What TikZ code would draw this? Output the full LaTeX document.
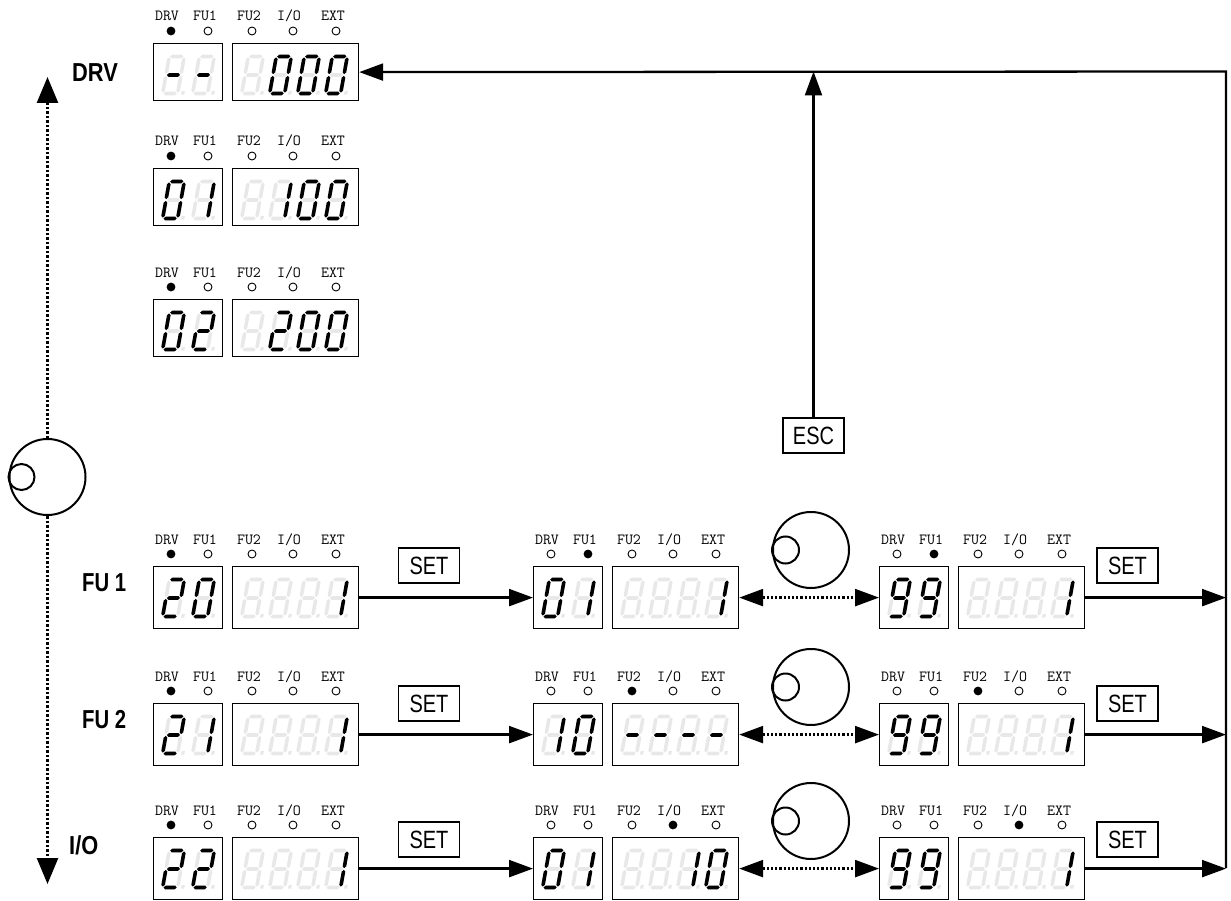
\documentclass[tikz,border=0pt]{standalone}
\usepackage{fontspec}
\usepackage{graphicx}
\setmainfont{Liberation Sans}
\usetikzlibrary{arrows.meta}
\definecolor{ghost}{gray}{0.91}

\tikzset{
 lbox/.style={draw, line width=1.2pt, rectangle, inner sep=0pt, anchor=north west, minimum width=69pt},
 rbox/.style={draw, line width=1.2pt, rectangle, inner sep=0pt, anchor=north west, minimum width=126pt},
 keybox/.style={draw, line width=1.1pt, minimum width=61pt, minimum height=35pt, inner sep=0pt, font=\fontsize{25}{25}\selectfont},
 rowlbl/.style={anchor=west, inner sep=0pt, font=\bfseries\fontsize{26}{26}\selectfont},
 ledlbl/.style={inner sep=0pt, anchor=base, font=\ttfamily\fontsize{15.5}{15.5}\selectfont},
 arr/.style={line width=2.3pt, -{Triangle[length=24pt,width=17pt]}},
 dotarr/.style={line width=2.4pt, dash pattern=on 2.2pt off 2pt, {Triangle[length=24pt,width=17pt]}-{Triangle[length=24pt,width=17pt]}},
 dotv/.style={line width=2.6pt, dash pattern=on 2.5pt off 2pt, -{Triangle[length=26pt,width=21pt]}},
 knob/.style={draw, circle, line width=2pt, minimum size=76pt, inner sep=0pt},
}

% seven segment pieces (local frame: y down, origin top-left)
\newcommand\hseg[3]{\fill[color=\segcol] (#1+0.9,#3) -- (#1+2.7,#3-1.8) -- (#2-2.7,#3-1.8) -- (#2-0.9,#3) -- (#2-2.7,#3+1.8) -- (#1+2.7,#3+1.8) -- cycle;}
\newcommand\vseg[3]{\fill[color=\segcol] (#1,#2+0.9) -- (#1+1.8,#2+2.7) -- (#1+1.8,#3-2.7) -- (#1,#3-0.9) -- (#1-1.8,#3-2.7) -- (#1-1.8,#2+2.7) -- cycle;}
\newcommand\segdrawa{\hseg{0}{15}{0}}
\newcommand\segdrawb{\vseg{15}{0}{18.5}}
\newcommand\segdrawc{\vseg{15}{18.5}{37}}
\newcommand\segdrawd{\hseg{0}{15}{37}}
\newcommand\segdrawe{\vseg{0}{18.5}{37}}
\newcommand\segdrawf{\vseg{0}{0}{18.5}}
\newcommand\segdrawg{\hseg{0}{15}{18.5}}
\newcommand\segdrawp{\fill[color=\segcol] (18.6,34.6) rectangle (21.8,38.2);}
\expandafter\def\csname dseg0\endcsname{a,b,c,d,e,f}
\expandafter\def\csname dseg1\endcsname{b,c}
\expandafter\def\csname dseg2\endcsname{a,b,g,e,d}
\expandafter\def\csname dseg9\endcsname{a,b,c,d,f,g}
\expandafter\def\csname dseg-\endcsname{g}
\expandafter\def\csname dsegN\endcsname{x}

\newcommand\dig[3]{%
 \begin{scope}[shift={(#1,#2)}, xslant=0.18]
  \def\segcol{ghost}%
  \foreach \s in {a,b,c,d,e,f,g,p}{\csname segdraw\s\endcsname}%
  \def\segcol{black}%
  \expandafter\let\expandafter\seglist\csname dseg#3\endcsname
  \foreach \s in \seglist {\csname segdraw\s\endcsname}%
 \end{scope}}
\newcommand\twodig[4]{\dig{#1+16.3}{#2+13.5}{#3}\dig{#1+46.3}{#2+13.5}{#4}}
\newcommand\fourdig[6]{\dig{#1+95.3}{#2+13.5}{#3}\dig{#1+123.3}{#2+13.5}{#4}\dig{#1+151.3}{#2+13.5}{#5}\dig{#1+179.3}{#2+13.5}{#6}}

\newcommand\led[4]{\ifnum#3=#4\relax \fill[black] (#1,#2) circle (4.4pt);\else \draw[line width=0.9pt] (#1,#2) circle (4pt);\fi}

\newcommand\panel[5]{%
 \node[lbox, minimum height=#4pt] (#1L) at (#2,#3) {};
 \node[rbox, minimum height=#4pt] (#1R) at (#2+79,#3) {};
 \node[ledlbl] (#1t1) at (#2+14,#3-22) {DRV};
 \node[ledlbl] (#1t2) at (#2+52,#3-22) {FU1};
 \node[ledlbl] (#1t3) at (#2+96,#3-22) {FU2};
 \node[ledlbl] (#1t4) at (#2+136,#3-22) {I/O};
 \node[ledlbl] (#1t5) at (#2+180,#3-22) {EXT};
 \led{#2+18}{#3-12}{1}{#5}
 \led{#2+55}{#3-12}{2}{#5}
 \led{#2+99}{#3-12}{3}{#5}
 \led{#2+140}{#3-12}{4}{#5}
 \led{#2+183}{#3-12}{5}{#5}
}

\begin{document}
\begin{tikzpicture}[x=1pt,y=-1pt]
\useasboundingbox (0,0) rectangle (1231,901);

% DRV group
\panel{D1}{153}{43}{57}{1} \twodig{153}{43}{-}{-} \fourdig{153}{43}{N}{0}{0}{0}
\panel{D2}{153}{168}{57}{1} \twodig{153}{168}{0}{1} \fourdig{153}{168}{N}{1}{0}{0}
\panel{D3}{153}{299}{57}{1} \twodig{153}{299}{0}{2} \fourdig{153}{299}{N}{2}{0}{0}

% left column of lower rows
\panel{A1}{153}{566}{62}{1} \twodig{153}{566}{2}{0} \fourdig{153}{566}{N}{N}{N}{1}
\panel{A2}{153}{703}{62}{1} \twodig{153}{703}{2}{1} \fourdig{153}{703}{N}{N}{N}{1}
\panel{A3}{153}{837}{62}{1} \twodig{153}{837}{2}{2} \fourdig{153}{837}{N}{N}{N}{1}

% middle column
\panel{B1}{533}{566}{62}{2} \twodig{533}{566}{0}{1} \fourdig{533}{566}{N}{N}{N}{1}
\panel{B2}{533}{703}{62}{3} \twodig{533}{703}{1}{0} \fourdig{533}{703}{-}{-}{-}{-}
\panel{B3}{533}{837}{62}{4} \twodig{533}{837}{0}{1} \fourdig{533}{837}{N}{N}{1}{0}

% right column
\panel{C1}{879}{566}{62}{2} \twodig{879}{566}{9}{9} \fourdig{879}{566}{N}{N}{N}{1}
\panel{C2}{879}{703}{62}{3} \twodig{879}{703}{9}{9} \fourdig{879}{703}{N}{N}{N}{1}
\panel{C3}{879}{837}{62}{4} \twodig{879}{837}{9}{9} \fourdig{879}{837}{N}{N}{N}{1}

% row labels
\node[rowlbl] (lDRV) at (72,73) {\scalebox{0.84}[1]{DRV}};
\node[rowlbl] (lFU1) at (82,583) {\scalebox{0.78}[1]{FU 1}};
\node[rowlbl] (lFU2) at (82,720) {\scalebox{0.78}[1]{FU 2}};
\node[rowlbl] (lIO) at (69,845) {\scalebox{0.84}[1]{I/O}};

% keys
\node[keybox] (setA1) at (429,565.5) {\scalebox{0.8}[1]{SET}};
\node[keybox] (setA2) at (429,703.5) {\scalebox{0.8}[1]{SET}};
\node[keybox] (setA3) at (429,839.5) {\scalebox{0.8}[1]{SET}};
\node[keybox] (setC1) at (1127.5,565.5) {\scalebox{0.8}[1]{SET}};
\node[keybox] (setC2) at (1127.5,703.5) {\scalebox{0.8}[1]{SET}};
\node[keybox] (setC3) at (1127.5,839.5) {\scalebox{0.8}[1]{SET}};
\node[keybox] (esc) at (813.5,435.5) {\scalebox{0.8}[1]{ESC}};

% knobs
\node[knob] (knobL) at (47.5,477) {};
\draw[line width=2pt] ([xshift=13pt]knobL.west) circle (13pt);
\node[knob] (k1) at (811,550) {};
\draw[line width=2pt] ([xshift=13.5pt]k1.west) circle (13.5pt);
\node[knob] (k2) at (811,687) {};
\draw[line width=2pt] ([xshift=13.5pt]k2.west) circle (13.5pt);
\node[knob] (k3) at (811,821) {};
\draw[line width=2pt] ([xshift=13.5pt]k3.west) circle (13.5pt);

% left vertical dotted arrows
\coordinate (vtop) at (47.5,77);
\coordinate (vbot) at (47.5,884);
\draw[dotv] (knobL.north) -- (vtop);
\draw[dotv] (knobL.south) -- (vbot);

% SET arrows
\draw[arr] (A1R.east) -- (B1L.west);
\draw[arr] (A2R.east) -- (B2L.west);
\draw[arr] (A3R.east) -- (B3L.west);

% knob double arrows
\draw[dotarr] (B1R.east) -- (C1L.west);
\draw[dotarr] (B2R.east) -- (C2L.west);
\draw[dotarr] (B3R.east) -- (C3L.west);

% return path
\coordinate (rtop) at (1226,71.5);
\coordinate (rbot) at (1226,868);
\draw[arr, line join=miter] (rbot) -- (rtop) -- (D1R.east);
\draw[arr] (C1R.east) -- (C1R.east -| rtop);
\draw[arr] (C2R.east) -- (C2R.east -| rtop);
\draw[arr] (C3R.east) -- (C3R.east -| rtop);
\draw[arr] (esc.north) -- (esc.north |- rtop);
\end{tikzpicture}
\end{document}
